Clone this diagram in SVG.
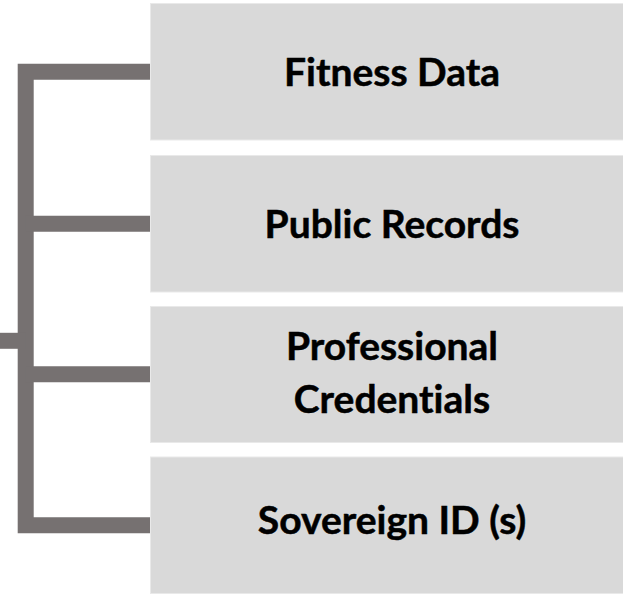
<svg xmlns="http://www.w3.org/2000/svg" width="623" height="594" viewBox="0 0 623 594">
<style>
.box{fill:#D9D9D9;stroke:#E9E9E9;stroke-width:1}
.lbl{font-family:Lato,"Open Sans","Liberation Sans",sans-serif;font-weight:bold;font-size:39px;fill:#000;text-anchor:middle;font-variant-ligatures:none;font-feature-settings:"liga" 0,"clig" 0;stroke:#000;stroke-width:0.5}
.conn{fill:none;stroke:#767171;stroke-width:16;stroke-linejoin:miter;stroke-linecap:butt}
</style>
<rect width="623" height="594" fill="#fff"/>
<g id="connectors">
<path class="conn" d="M152 71.7 H25.7 V525.3 H152"/>
<path class="conn" d="M25.7 223.7 H152"/>
<path class="conn" d="M25.7 374.3 H152"/>
<path class="conn" d="M0 340.8 H25.7"/>
</g>
<g id="node-fitness">
<rect class="box" x="150.5" y="3.5" width="480" height="136.5"/>
<text class="lbl" x="392" y="86">Fitness Data</text>
</g>
<g id="node-public">
<rect class="box" x="150.5" y="155.5" width="480" height="136.5"/>
<text class="lbl" x="392" y="237.5">Public Records</text>
</g>
<g id="node-professional">
<rect class="box" x="150.5" y="306.5" width="480" height="136"/>
<text class="lbl" x="392" y="359.5">Professional</text>
<text class="lbl" x="392" y="412.7">Credentials</text>
</g>
<g id="node-sovereign">
<rect class="box" x="150.5" y="457" width="480" height="136.5"/>
<text class="lbl" x="392" y="534">Sovereign ID (s)</text>
</g>
</svg>
